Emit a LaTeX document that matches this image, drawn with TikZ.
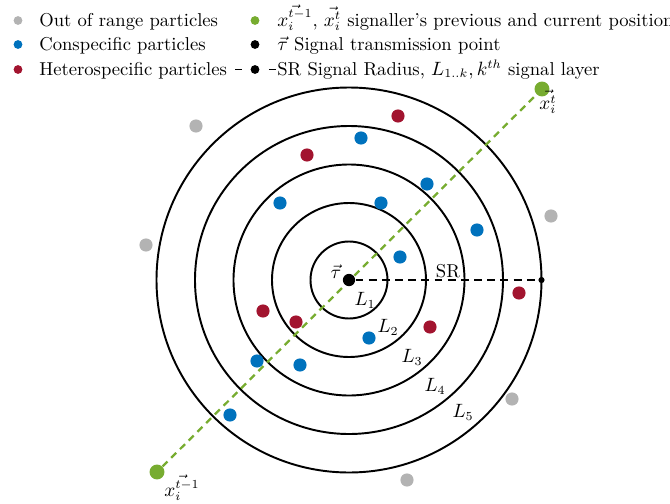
\documentclass[tikz,border=0pt]{standalone}
\usetikzlibrary{positioning}
\definecolor{outgray}{RGB}{179,179,179}
\definecolor{conblue}{RGB}{0,114,189}
\definecolor{hetred}{RGB}{162,20,47}
\definecolor{sigreen}{RGB}{119,172,48}
\tikzset{
  pdot/.style={circle, fill=black, inner sep=0pt, minimum size=7.5pt},
  outp/.style={pdot, fill=outgray},
  conp/.style={pdot, fill=conblue},
  hetp/.style={pdot, fill=hetred},
  sigpt/.style={pdot, fill=sigreen, minimum size=8.5pt},
  ldot/.style={circle, fill=black, inner sep=0pt, minimum size=5pt},
  ltext/.style={anchor=base west, inner sep=0pt},
  ringline/.style={line width=1.1pt},
  srline/.style={line width=1.1pt, dash pattern=on 4.5pt off 3pt},
  sigline/.style={line width=1.3pt, sigreen, dash pattern=on 4pt off 3pt}
}

\begin{document}
\begin{tikzpicture}[x=0.2mm, y=0.2mm, font=\fontsize{10.6pt}{12.8pt}\selectfont]
  \useasboundingbox (0,0) rectangle (670,-504);

  % legend
  \node[ldot, fill=outgray] (lgout) at (18,-20.5) {};
  \node[ldot, fill=conblue] (lgcon) at (18,-44.5) {};
  \node[ldot, fill=hetred] (lghet) at (18,-69.5) {};
  \node[ltext] (txout) at (39,-26) {Out of range particles};
  \node[ltext] (txcon) at (39,-50) {Conspecific particles};
  \node[ltext] (txhet) at (39,-75) {Heterospecific particles};
  \node[ldot, fill=sigreen] (lgsig) at (255,-20.5) {};
  \node[ldot] (lgtau) at (255,-44.5) {};
  \node[ldot] (lgsr) at (255,-69.5) {};
  \coordinate (lgsra) at (235,-69.5);
  \coordinate (lgsrb) at (276,-69.5);
  \draw[line width=1.1pt, dash pattern=on 4pt off 15.3pt] (lgsra) -- (lgsrb);
  \node[ltext] (txsig) at (277,-26) {$\vec{x_i^{t-1}}$, $\vec{x_i^{t}}$ signaller's previous and current position};
  \node[ltext] (txtau) at (277,-50) {$\vec{\tau}$ Signal transmission point};
  \node[ltext] (txsr) at (277,-75) {SR Signal Radius, $L_{1..k}, k^{th}$ signal layer};

  % layers
  \coordinate (c) at (349,-280);
  \foreach \k in {1,...,5}
    \draw[ringline] (c) circle ({38.5*\k});

  % signaller path
  \node[sigpt] (prev) at (157,-472) {};
  \node[sigpt] (curr) at (542,-89) {};
  \draw[sigline] (prev) -- (curr);
  \node[pdot, minimum size=7pt] (tau) at (c) {};
  \node[pdot, minimum size=3.5pt] (srend) at (541.5,-280) {};
  \draw[srline] (tau) -- (srend);

  % particles
  \foreach \x/\y [count=\n] in {196/126, 146/245, 551/216, 512/399, 407/480}
    \node[outp] (out\n) at (\x,-\y) {};
  \foreach \x/\y [count=\n] in {361/138, 427/184, 280/203, 381/203, 477/230, 400/257, 369/338, 257/361, 300/365, 230/415}
    \node[conp] (con\n) at (\x,-\y) {};
  \foreach \x/\y [count=\n] in {398/116, 307/155, 519/293, 263/311, 296/322, 430/327}
    \node[hetp] (het\n) at (\x,-\y) {};

  % labels
  \node (tlab) at (336,-272) {$\vec{\tau}$};
  \node (srlab) at (448,-271) {SR};
  \node (currlab) at (548,-102) {$\vec{x_i^{t}}$};
  \node (prevlab) at (182,-488) {$\vec{x_i^{t-1}}$};
  \foreach \x/\y [count=\k] in {365/300, 388/327, 412/357, 435/386, 463/412}
    \node (lab\k) at (\x,-\y) {$L_{\k}$};
\end{tikzpicture}
\end{document}
